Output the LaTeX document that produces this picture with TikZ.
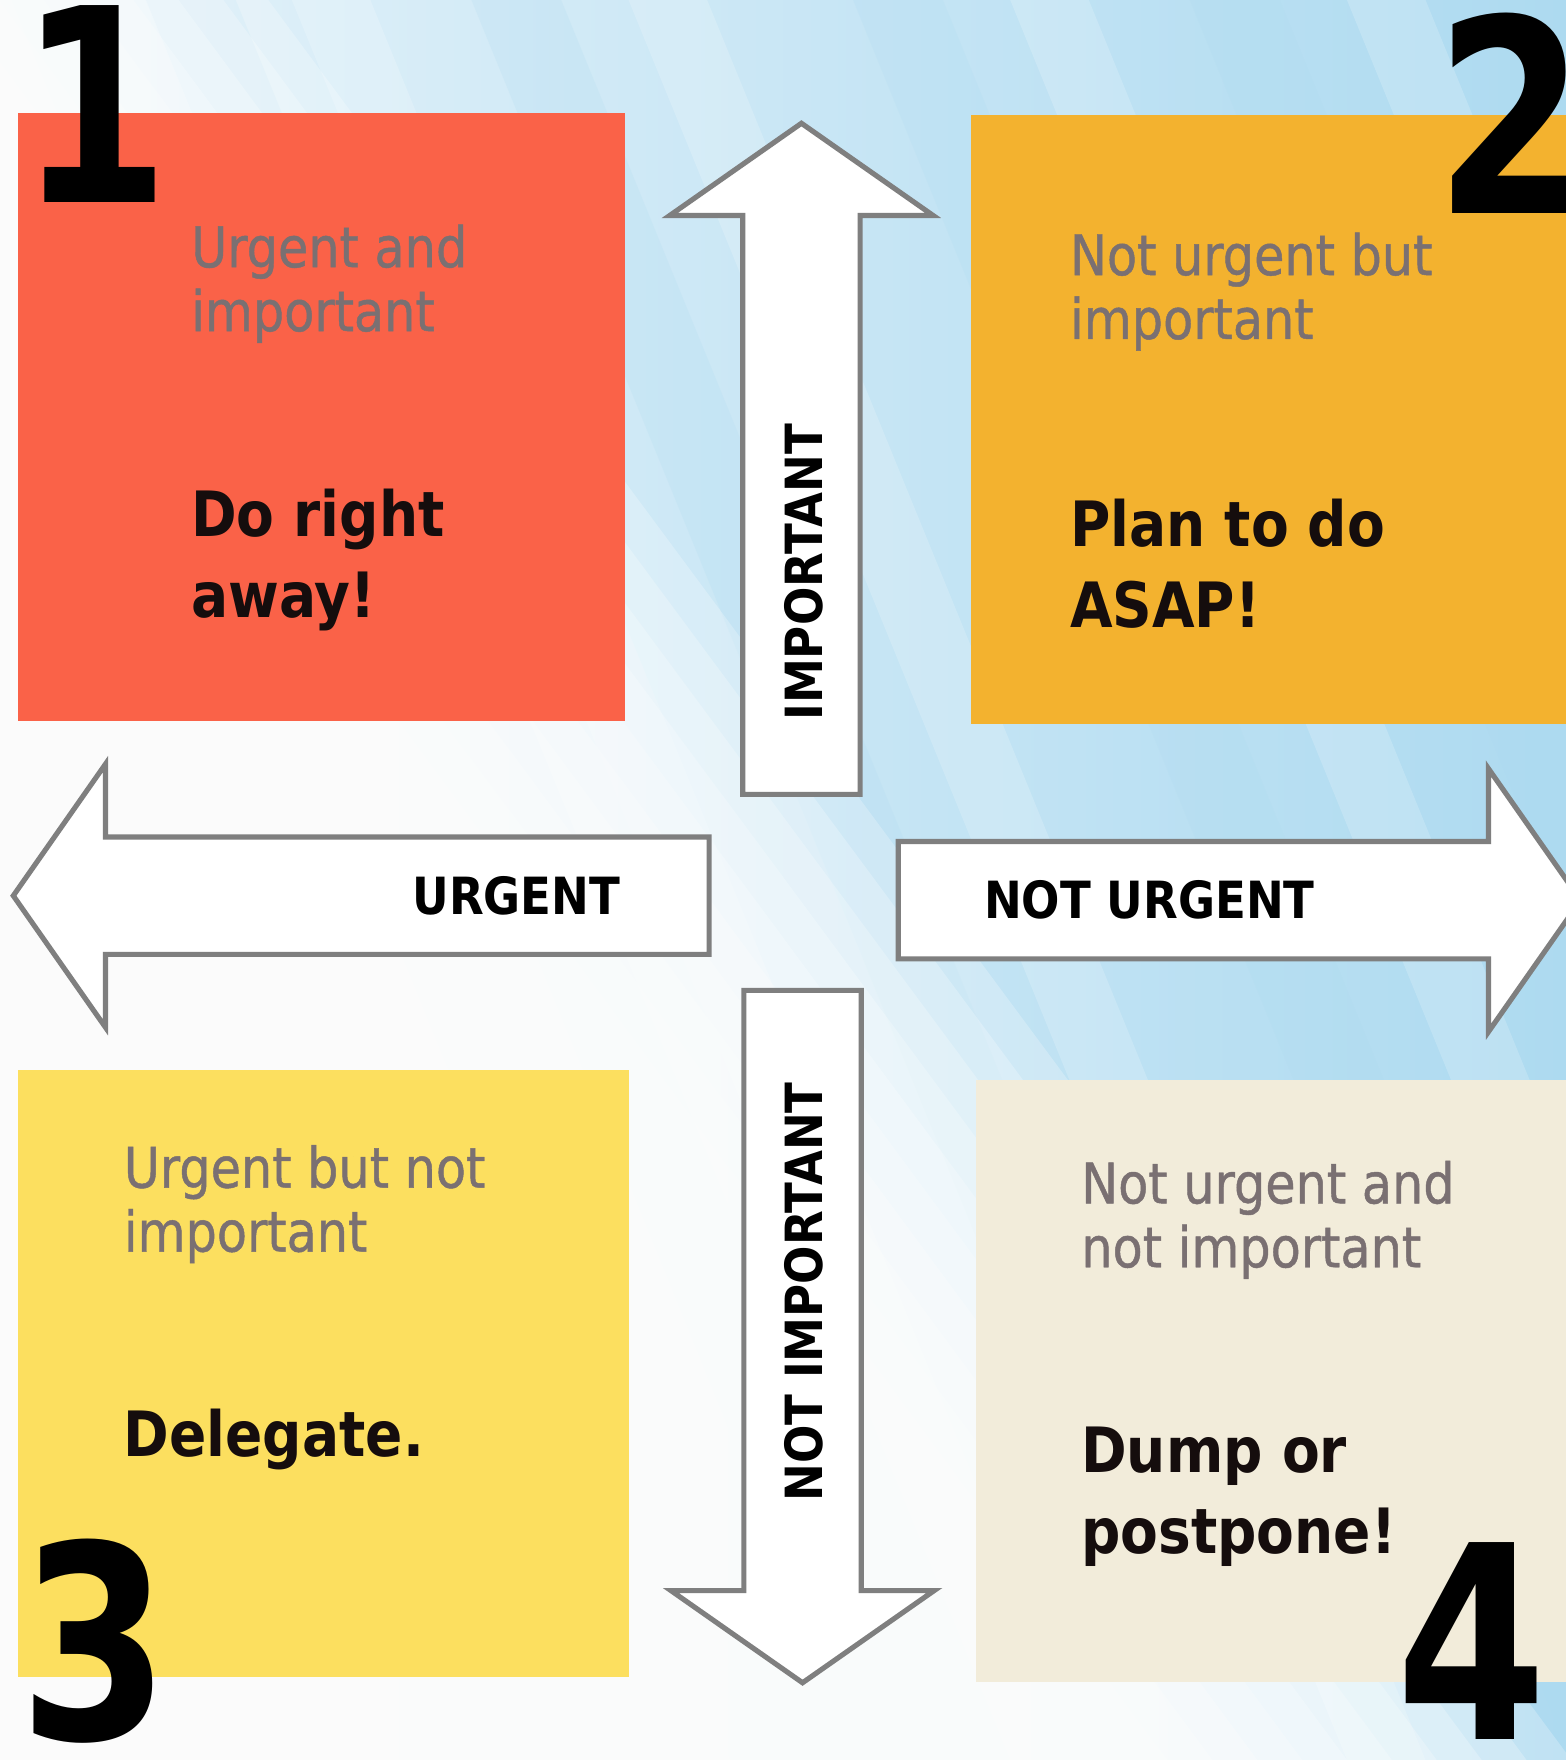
\documentclass[tikz,border=0pt]{standalone}
\usepackage{fontspec}
\setmainfont{DejaVu Sans}[FakeStretch=0.88]
\newfontfamily\subfont{DejaVu Sans}[FakeStretch=0.88, FakeBold=0.8]
\newfontfamily\digitfont{DejaVu Sans}[FakeStretch=0.8]
\usetikzlibrary{shapes.arrows}

\definecolor{urgentred}{HTML}{FA6248}
\definecolor{planorange}{HTML}{F3B22F}
\definecolor{delegateyellow}{HTML}{FCDF5F}
\definecolor{dumpbeige}{HTML}{F2ECDA}
\definecolor{subgray}{HTML}{7A7072}
\definecolor{inkblack}{HTML}{150D0D}
\definecolor{arrowgray}{HTML}{7F7F7F}
\definecolor{skyleft}{HTML}{E6F3FA}
\definecolor{skyright}{HTML}{ADDAF0}

\begin{document}
\begin{tikzpicture}[
        x=0.02cm, y=-0.02cm,
        quadrant/.style={rectangle, anchor=north west, inner sep=0pt},
        subtext/.style={anchor=base west, inner sep=0pt, align=left, text=subgray, font=\subfont\fontsize{28.4}{32.4}\selectfont},
        actiontext/.style={anchor=base west, inner sep=0pt, align=left, text=inkblack, font=\bfseries\fontsize{31.7}{41}\selectfont},
        axisarrow/.style={single arrow, anchor=tail, draw=arrowgray, fill=white, line width=2.6pt, inner xsep=0pt, inner ysep=1cm, single arrow head extend=1.3cm, single arrow tip angle=110},
        axislabel/.style={inner sep=0pt, text=black, font=\bfseries\fontsize{26}{28}\selectfont},
        cornernum/.style={anchor=base, inner sep=0pt, text=black, font=\digitfont\bfseries\fontsize{137}{140}\selectfont}
      ]

      % sky background
      \useasboundingbox (0,0) rectangle (1395,1568);
      \shade[left color=skyleft, right color=skyright] (0,0) rectangle (1395,1568);
      \foreach \s in {-60,260,560,900,1200}
        \fill[white, opacity=.18] (\s,0) -- ++(70,0) -- ++(640,1568) -- ++(-70,0) -- cycle;
      \foreach \s in {130,420,760,1060}
        \fill[skyright, opacity=.2] (\s,0) -- ++(80,0) -- ++(640,1568) -- ++(-80,0) -- cycle;
      \foreach \d in {-200,-160,...,160}
        \fill[white, opacity=.24] (79+\d,0) -- (1240+\d,1568) -- (0,1568) -- (0,0) -- cycle;

      % the four quadrants
      \node[quadrant, fill=urgentred, minimum width=10.82cm, minimum height=10.84cm] (q1) at (16,100) {};
      \node[quadrant, fill=planorange, minimum width=10.8cm, minimum height=10.86cm] (q2) at (865,102) {};
      \node[quadrant, fill=delegateyellow, minimum width=10.88cm, minimum height=10.82cm] (q3) at (16,953) {};
      \node[quadrant, fill=dumpbeige, minimum width=10.8cm, minimum height=10.72cm] (q4) at (869,962) {};

      \node[subtext] (q1sub) at ([shift={(154,195)}]q1.north west) {Urgent and\\important};
      \node[actiontext] (q1act) at ([shift={(154,450)}]q1.north west) {Do right\\away!};
      \node[subtext] (q2sub) at ([shift={(88,200)}]q2.north west) {Not urgent but\\important};
      \node[actiontext] (q2act) at ([shift={(88,457)}]q2.north west) {Plan to do\\ASAP!};
      \node[subtext] (q3sub) at ([shift={(94,162)}]q3.north west) {Urgent but not\\important};
      \node[actiontext] (q3act) at ([shift={(94,345)}]q3.north west) {Delegate.};
      \node[subtext] (q4sub) at ([shift={(94,167)}]q4.north west) {Not urgent and\\not important};
      \node[actiontext] (q4act) at ([shift={(94,422)}]q4.north west) {Dump or\\postpone!};

      % axis arrows
      \node[axisarrow, rotate=90, minimum height=11.96cm] (imp) at (714,710) {};
      \node[axisarrow, rotate=-90, minimum height=12.34cm] (notimp) at (715,880) {};
      \node[axisarrow, rotate=180, minimum height=12.4cm] (urg) at (634,798) {};
      \node[axisarrow, minimum height=12.16cm] (noturg) at (798,802) {};

      \node[axislabel, rotate=90] (implbl) at (716,510) {IMPORTANT};
      \node[axislabel, rotate=90] (notimplbl) at (716,1151) {NOT IMPORTANT};
      \node[axislabel] (urglbl) at (460,798) {URGENT};
      \node[axislabel] (noturglbl) at (1024,802) {NOT URGENT};

      % corner numbers
      \node[cornernum] (n1) at (84,180) {1};
      \node[cornernum] (n2) at (1346,190) {2};
      \node[cornernum] (n3) at (84,1550) {3};
      \node[cornernum] (n4) at (1311,1550) {4};

\end{tikzpicture}
\end{document}
